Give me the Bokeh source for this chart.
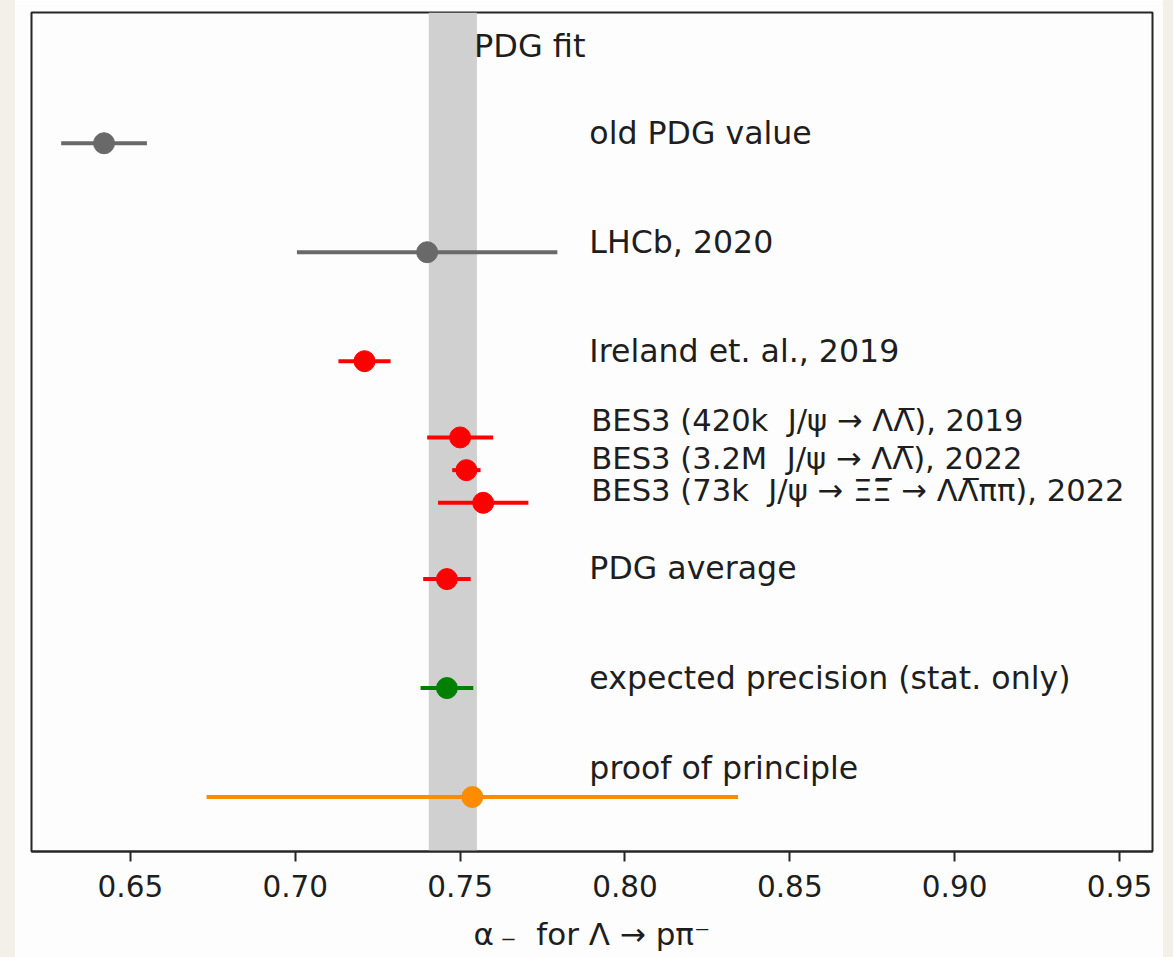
from bokeh.plotting import figure
from bokeh.models import Range1d, FixedTicker, PrintfTickFormatter, BoxAnnotation, ColumnDataSource, Spacer
from bokeh.layouts import row
from bokeh.core.properties import value
from bokeh.embed import file_html
from bokeh.resources import INLINE

# ---- data ----
labels = [
    "old PDG value",
    "LHCb, 2020",
    "Ireland et. al., 2019",
    "BES3 (420k\u00a0 J/\u03c8 \u2192 \u039b\u039b\u0305), 2019",
    "BES3 (3.2M\u00a0 J/\u03c8 \u2192 \u039b\u039b\u0305), 2022",
    "BES3 (73k\u00a0 J/\u03c8 \u2192 \u039e\u039e\u0305 \u2192 \u039b\u039b\u0305\u03c0\u03c0), 2022",
    "PDG average",
    "expected precision (stat. only)",
    "proof of principle",
]
alpha = [0.642, 0.740, 0.721, 0.750, 0.7519, 0.757, 0.746, 0.746, 0.7537]
alpha_err = [0.013, 0.0395, 0.0079, 0.0100, 0.0043, 0.0137, 0.0072, 0.0080, 0.0806]
row_pos = [6.0, 5.0, 4.0, 3.3, 3.0, 2.7, 2.0, 1.0, 0.0]
colors = ["dimgray", "dimgray", "red", "red", "red", "red", "red", "green", "darkorange"]

pdg_fit_center = 0.7478
pdg_fit_err = 0.0073
pdg_fit_label = "PDG fit"

x_ticks = [0.65, 0.70, 0.75, 0.80, 0.85, 0.90, 0.95]
x_label = "\u03b1\u2009\u208b\u00a0 for \u039b \u2192 p\u03c0\u207b"

# ---- layout helpers (text placement / sizes) ----
label_x = [0.7892, 0.7892, 0.7892, 0.7898, 0.7898, 0.7898, 0.7892, 0.7892, 0.7892]
label_dy = [0.094, 0.094, 0.095, 0.155, 0.11, 0.115, 0.10, 0.095, 0.268]
label_size = ["31.6px", "31.6px", "31.6px", "30.6px", "30.6px", "30.6px", "31.6px", "31.6px", "31.6px"]

FONT = "DejaVu Sans"
TXT = "#1e1e1e"

p = figure(width=1148, height=957,
           x_range=Range1d(0.62, 0.96), y_range=Range1d(-0.5, 7.2),
           output_backend="svg", toolbar_location=None,
           y_axis_location=None,
           min_border_left=16, min_border_right=11,
           min_border_top=12, min_border_bottom=106)
p.grid.visible = False
p.background_fill_color = "#fdfdfd"
p.border_fill_color = "#fdfdfd"
p.outline_line_color = "#262626"
p.outline_line_width = 2

band = BoxAnnotation(left=pdg_fit_center - pdg_fit_err, right=pdg_fit_center + pdg_fit_err,
                     fill_color="#d0d0d0", fill_alpha=1.0, line_color=None, level="underlay")
p.add_layout(band)

src = ColumnDataSource(dict(
    x=alpha,
    x0=[a - e for a, e in zip(alpha, alpha_err)],
    x1=[a + e for a, e in zip(alpha, alpha_err)],
    y=row_pos,
    c=colors,
    lx=label_x,
    ly=[y + d for y, d in zip(row_pos, label_dy)],
    t=labels,
    fs=label_size,
))

p.segment(x0="x0", x1="x1", y0="y", y1="y", line_color="c", line_width=4, source=src)
p.scatter(x="x", y="y", size=21, fill_color="c", line_color="c", source=src)
p.text(x="lx", y="ly", text="t", source=src, text_font=value(FONT), text_font_size="fs",
       text_baseline="middle", text_align="left", text_color=TXT)

p.text(x=[pdg_fit_center + pdg_fit_err - 0.0009], y=[6.89], text=[pdg_fit_label], text_font=value(FONT),
       text_font_size="32px", text_baseline="middle", text_align="left", text_color=TXT)

ax = p.xaxis[0]
ax.ticker = FixedTicker(ticks=x_ticks)
ax.formatter = PrintfTickFormatter(format="%.2f")
ax.axis_line_color = "#262626"
ax.axis_line_width = 2
ax.major_tick_line_color = "#262626"
ax.major_tick_line_width = 2
ax.major_tick_out = 10
ax.major_tick_in = 0
ax.minor_tick_line_color = None
ax.major_label_text_font = FONT
ax.major_label_text_font_size = "29.5px"
ax.major_label_text_color = TXT
ax.major_label_standoff = 13
ax.axis_label = x_label
ax.axis_label_text_font = FONT
ax.axis_label_text_font_size = "31px"
ax.axis_label_text_font_style = "normal"
ax.axis_label_text_color = TXT
ax.axis_label_standoff = 16

bg = "#f3f0ea"
layout = row(Spacer(width=15, height=957, styles={"background-color": bg}),
             p,
             Spacer(width=10, height=957, styles={"background-color": bg}))

open("out.html", "w").write(file_html(layout, INLINE))
